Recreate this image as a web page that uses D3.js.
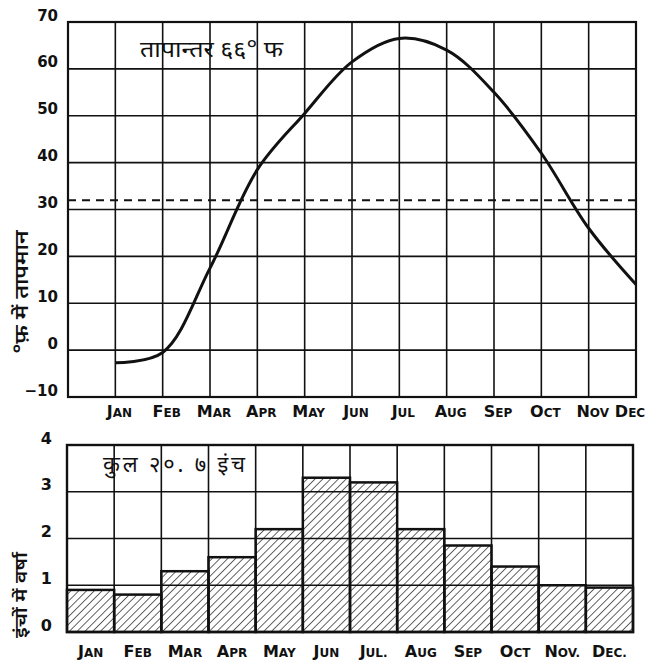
<!DOCTYPE html>
<html><head><meta charset="utf-8">
<script src="https://cdn.jsdelivr.net/npm/d3@7/dist/d3.min.js"></script>
<style>
html,body{margin:0;padding:0;background:#fff;}
svg{display:block;}
.lat{font-family:"DejaVu Sans","Liberation Sans",sans-serif;font-weight:bold;fill:#111;}
.dev{font-family:"Noto Sans Devanagari","Noto Sans","Lohit Devanagari",sans-serif;fill:#111;}
</style></head>
<body>
<script>
// ---- data ----
const monthsTop = ["JAN","FEB","MAR","APR","MAY","JUN","JUL","AUG","SEP","OCT","NOV","DEC"];
const monthsBottom = ["JAN","FEB","MAR","APR","MAY","JUN","JUL.","AUG","SEP","OCT","NOV.","DEC."];
const temperature = [-2.7, -0.5, 17.5, 38.5, 50.5, 61.5, 66.5, 64, 55, 42, 26, 14];
const rainfall = [0.9, 0.8, 1.3, 1.6, 2.2, 3.3, 3.2, 2.2, 1.85, 1.4, 1.0, 0.95];
const tempTicks = [70, 60, 50, 40, 30, 20, 10, 0, -10];
const rainTicks = [4, 3, 2, 1, 0];
const freezing = 32;
const tempTitle = "तापान्तर ६६° फ";
const rainTitle = "कुल २०. ७ इंच";
const tempAxisTitle = "°फ़ में तापमान";
const rainAxisTitle = "इंचों में वर्षा";

(function () {
const W = 648, H = 664;
const svg = d3.select("body").append("svg").attr("width", W).attr("height", H);

const defs = svg.append("defs");
const pat = defs.append("pattern").attr("id","hatch").attr("patternUnits","userSpaceOnUse")
  .attr("width",5.5).attr("height",5.5).attr("patternTransform","rotate(45)");
pat.append("line").attr("x1",0).attr("y1",0).attr("x2",0).attr("y2",5.5)
  .attr("stroke","#111").attr("stroke-width",1.3);

// ---- top chart ----
const xT = d3.scaleLinear().domain([0, 12]).range([68, 636]);
const yT = d3.scaleLinear().domain([-10, 70]).range([397, 22]);
const gTop = svg.append("g");

gTop.selectAll("line.h").data(d3.range(-10, 71, 10)).join("line")
  .attr("x1", xT(0)).attr("x2", xT(12)).attr("y1", d => yT(d)).attr("y2", d => yT(d))
  .attr("stroke", "#111").attr("stroke-width", 1.6);
gTop.selectAll("line.v").data(d3.range(0, 13)).join("line")
  .attr("x1", d => xT(d)).attr("x2", d => xT(d)).attr("y1", yT(70)).attr("y2", yT(-10))
  .attr("stroke", "#111").attr("stroke-width", 1.6);
gTop.append("rect").attr("x", xT(0)).attr("y", yT(70)).attr("width", xT(12) - xT(0))
  .attr("height", yT(-10) - yT(70)).attr("fill", "none").attr("stroke", "#111").attr("stroke-width", 2.2);

gTop.append("line").attr("x1", xT(0)).attr("x2", xT(12)).attr("y1", yT(freezing)).attr("y2", yT(freezing))
  .attr("stroke", "#111").attr("stroke-width", 2).attr("stroke-dasharray", "8,6");

const line = d3.line().x((d, i) => xT(i + 1)).y(d => yT(d)).curve(d3.curveCatmullRom.alpha(0.5));
gTop.append("path").datum(temperature).attr("d", line).attr("fill", "none")
  .attr("stroke", "#111").attr("stroke-width", 3);

gTop.selectAll("text.yt").data(tempTicks).join("text").attr("class", "lat")
  .attr("x", 58).attr("y", d => yT(d) - 6).attr("text-anchor", "end")
  .attr("dominant-baseline", "middle").attr("font-size", 15)
  .text(d => d < 0 ? "\u2212" + Math.abs(d) : d);

function smallCaps(sel, big, small) {
  sel.each(function(d) {
    const t = d3.select(this);
    t.append("tspan").attr("font-size", big).text(d[0]);
    t.append("tspan").attr("font-size", small).text(d.slice(1));
  });
}
gTop.selectAll("text.m").data(monthsTop).join("text").attr("class", "lat")
  .attr("x", (d, i) => Math.min(xT(i + 1) + 4, 630)).attr("y", 417).attr("text-anchor", "middle")
  .call(smallCaps, 16, 12);

gTop.append("text").attr("class", "dev").attr("x", 140).attr("y", 57)
  .attr("font-size", 23).attr("textLength", 143).attr("lengthAdjust", "spacingAndGlyphs")
  .text(tempTitle);
gTop.append("text").attr("class", "dev").attr("font-size", 19).attr("font-weight", 600)
  .attr("textLength", 123).attr("lengthAdjust", "spacingAndGlyphs")
  .attr("transform", "translate(28,292) rotate(-90)").attr("text-anchor", "middle")
  .text(tempAxisTitle);

// ---- bottom chart ----
const xB = d3.scaleBand().domain(monthsBottom).range([67, 633]).padding(0);
const yB = d3.scaleLinear().domain([0, 4]).range([632, 445]);
const gBot = svg.append("g");

gBot.selectAll("line.h").data([1, 2, 3]).join("line")
  .attr("x1", xB.range()[0]).attr("x2", xB.range()[1]).attr("y1", d => yB(d)).attr("y2", d => yB(d))
  .attr("stroke", "#111").attr("stroke-width", 1.6);
gBot.selectAll("line.v").data(monthsBottom.slice(1)).join("line")
  .attr("x1", d => xB(d)).attr("x2", d => xB(d)).attr("y1", yB(4)).attr("y2", yB(0))
  .attr("stroke", "#111").attr("stroke-width", 1.6);

gBot.selectAll("rect.bar").data(rainfall).join("rect")
  .attr("x", (d, i) => xB(monthsBottom[i])).attr("width", xB.bandwidth())
  .attr("y", d => yB(d)).attr("height", d => yB(0) - yB(d))
  .attr("fill", "url(#hatch)").attr("stroke", "#111").attr("stroke-width", 2.5);

gBot.append("rect").attr("x", xB.range()[0]).attr("y", yB(4)).attr("width", xB.range()[1] - xB.range()[0])
  .attr("height", yB(0) - yB(4)).attr("fill", "none").attr("stroke", "#111").attr("stroke-width", 2.4);

gBot.selectAll("text.yt").data(rainTicks).join("text").attr("class", "lat")
  .attr("x", 52).attr("y", d => yB(d) - 6).attr("text-anchor", "end")
  .attr("dominant-baseline", "middle").attr("font-size", 16).text(d => d);

gBot.selectAll("text.m").data(monthsBottom).join("text").attr("class", "lat")
  .attr("x", d => xB(d) + xB.bandwidth() / 2).attr("y", 657).attr("text-anchor", "middle")
  .call(smallCaps, 16, 12);

gBot.append("text").attr("class", "dev").attr("x", 103).attr("y", 472)
  .attr("font-size", 22).attr("textLength", 142).attr("lengthAdjust", "spacing")
  .text(rainTitle);
gBot.append("text").attr("class", "dev").attr("font-size", 17).attr("font-weight", 600)
  .attr("textLength", 86).attr("lengthAdjust", "spacingAndGlyphs")
  .attr("transform", "translate(27,595) rotate(-90)").attr("text-anchor", "middle")
  .text(rainAxisTitle);
})();
</script>
</body></html>
